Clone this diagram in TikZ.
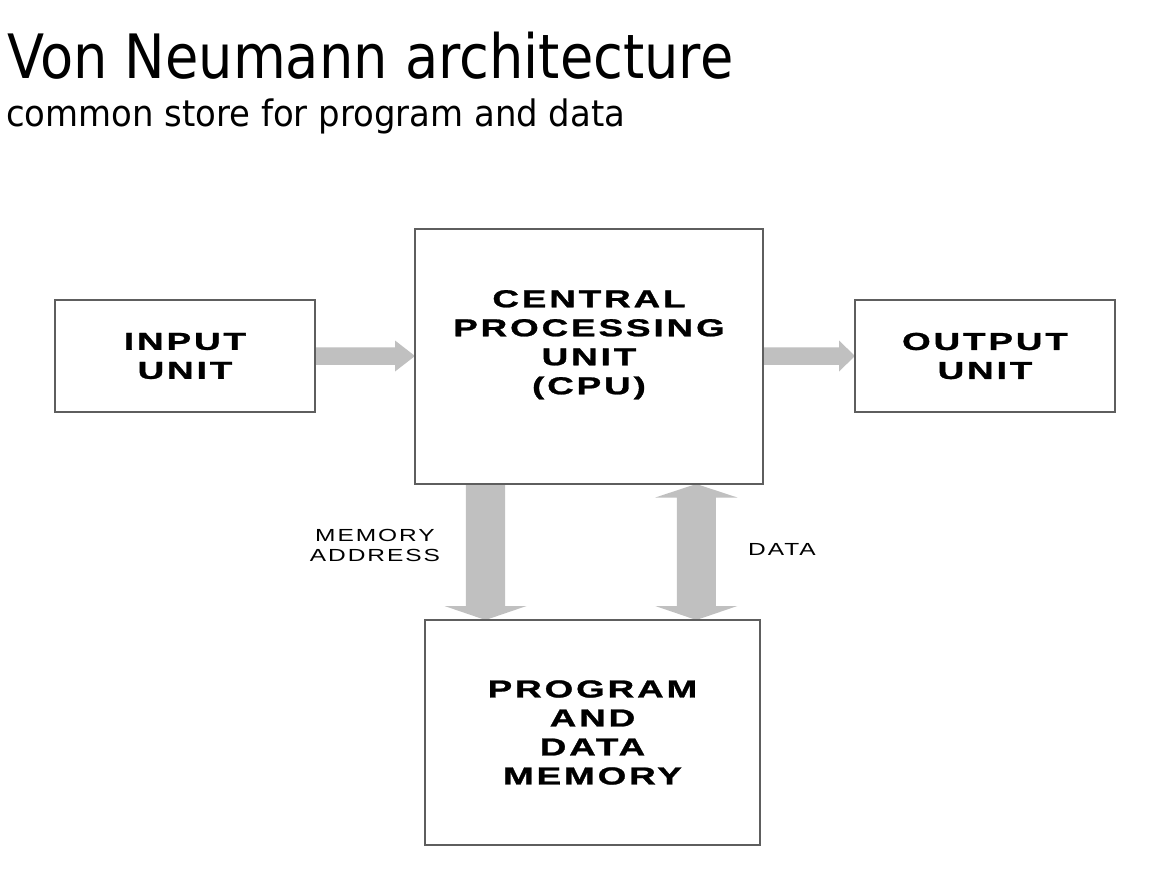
\documentclass[tikz,border=0pt]{standalone}
\usepackage{fontspec}
\usepackage{graphicx}
\usetikzlibrary{calc,backgrounds}
\setmainfont{DejaVu Sans}
\newfontfamily\titlefont{DejaVu Sans}
\newfontfamily\boxfont[LetterSpace=8,FakeBold=1]{Liberation Sans}
\newfontfamily\lblfont[LetterSpace=8]{Liberation Sans}
\definecolor{arrowgray}{HTML}{C0C0C0}
\definecolor{bordergray}{HTML}{5E5E5E}
\newcommand\stretchbox[1]{\scalebox{1.5}[1]{#1}}
\newcommand\stretchlbl[1]{\scalebox{1.4}[1]{#1}}
% horizontal block arrow from #1 to #2, head length #3
\newcommand\harrow[3]{%
  \fill[arrowgray] let \p1=(#1), \p2=(#2) in
    (\x1,\y1+8.75pt) -- (\x2-#3,\y1+8.75pt) -- (\x2-#3,\y1+15.5pt) -- (\x2,\y1)
    -- (\x2-#3,\y1-15.5pt) -- (\x2-#3,\y1-8.75pt) -- (\x1,\y1-8.75pt) -- cycle;}
% vertical block arrow pointing down, from #1 (top) to #2 (bottom)
\newcommand\varrow[2]{%
  \fill[arrowgray] let \p1=(#1), \p2=(#2) in
    (\x1-19.7pt,\y1) -- (\x1-19.7pt,\y2+14pt) -- (\x1-41pt,\y2+14pt) -- (\x1,\y2)
    -- (\x1+41pt,\y2+14pt) -- (\x1+19.7pt,\y2+14pt) -- (\x1+19.7pt,\y1) -- cycle;}
% vertical double block arrow between #1 (top) and #2 (bottom)
\newcommand\dvarrow[2]{%
  \fill[arrowgray] let \p1=(#1), \p2=(#2) in
    (\x1,\y1) -- (\x1+41pt,\y1-13.5pt) -- (\x1+19.5pt,\y1-13.5pt) -- (\x1+19.5pt,\y2+14pt)
    -- (\x1+41pt,\y2+14pt) -- (\x1,\y2) -- (\x1-41pt,\y2+14pt) -- (\x1-19.5pt,\y2+14pt)
    -- (\x1-19.5pt,\y1-13.5pt) -- (\x1-41pt,\y1-13.5pt) -- cycle;}
\tikzset{
  unitbox/.style={draw=bordergray, line width=1.5pt, rectangle, outer sep=0pt,
    inner sep=0pt, align=center,
    font=\boxfont\bfseries\fontsize{24.5}{29}\selectfont},
  boxtext/.style={inner sep=0pt, align=center,
    font=\boxfont\bfseries\fontsize{24.5}{29}\selectfont},
  lbltext/.style={inner sep=0pt, align=center,
    font=\lblfont\fontsize{17.5}{20}\selectfont},
  headtext/.style={inner sep=0pt, anchor=base west}
}
\begin{document}
\begin{tikzpicture}[x=1pt,y=-1pt]
\begin{pgfonlayer}{background}
  \fill[white] (0,0) rectangle (1160,881);
\end{pgfonlayer}
\useasboundingbox (0,0) rectangle (1160,881);

% title
\node[headtext] (title) at (7,78)
  {\resizebox{726pt}{46.5pt}{\titlefont Von Neumann architecture}};
\node[headtext] (subtitle) at (6,126.7)
  {\resizebox{619pt}{27.7pt}{\titlefont common store for program and data}};

% boxes
\node[unitbox, minimum width=260pt, minimum height=112pt] (inp) at (185,356)
  {\stretchbox{INPUT}\\\stretchbox{UNIT}};
\node[unitbox, minimum width=348pt, minimum height=255pt] (cpu) at (589,356.5) {};
\node[boxtext] (cputext) at ([yshift=11.75pt]cpu.center)
  {\stretchbox{CENTRAL}\\\stretchbox{PROCESSING}\\\stretchbox{UNIT}\\\stretchbox{(CPU)}};
\node[unitbox, minimum width=260pt, minimum height=112pt] (out) at (985,356)
  {\stretchbox{OUTPUT}\\\stretchbox{UNIT}};
\node[unitbox, minimum width=335pt, minimum height=225pt] (mem) at (592.5,732.5)
  {\stretchbox{PROGRAM}\\\stretchbox{AND}\\\stretchbox{DATA}\\\stretchbox{MEMORY}};

% connector end points
\coordinate (maTop) at ([xshift=70.5pt]cpu.south west);
\coordinate (maBot) at (maTop |- mem.north);
\coordinate (dTop) at ([xshift=281.3pt]cpu.south west);
\coordinate (dBot) at (dTop |- mem.north);
\coordinate (inEnd) at (inp.east -| cpu.west);
\coordinate (outStart) at (cpu.east |- out.west);

% connectors
\begin{pgfonlayer}{background}
  \harrow{inp.east}{inEnd}{20pt}
  \harrow{outStart}{out.west}{16pt}
  \varrow{maTop}{maBot}
  \dvarrow{dTop}{dBot}
\end{pgfonlayer}

% labels
\node[lbltext] (malbl) at (375,545.7) {\stretchlbl{MEMORY}\\\stretchlbl{ADDRESS}};
\node[lbltext, anchor=base] (datalbl) at (782,555) {\stretchlbl{DATA}};
\end{tikzpicture}
\end{document}
